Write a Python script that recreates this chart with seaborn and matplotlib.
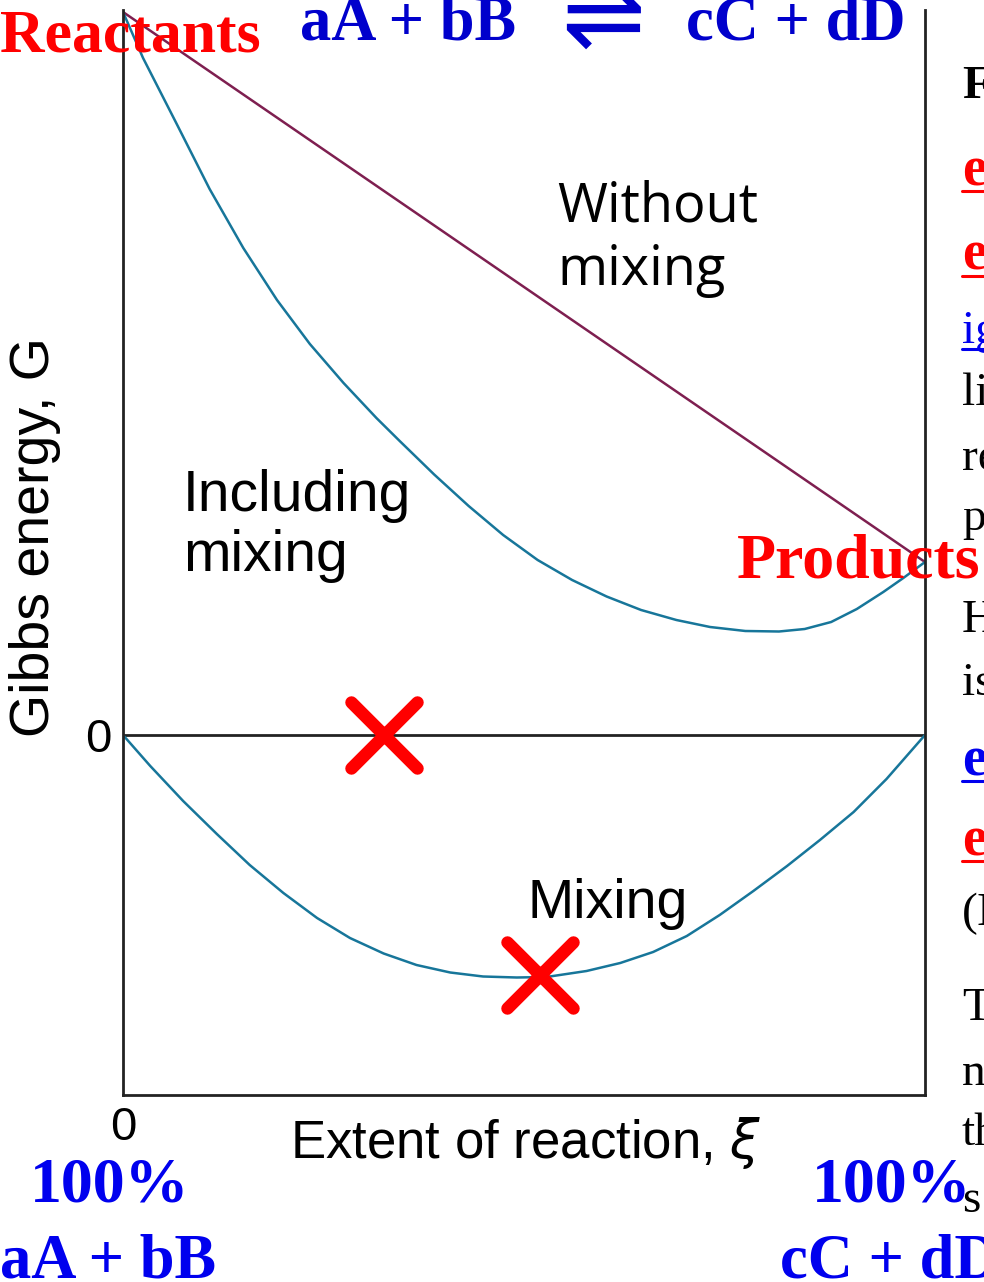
import matplotlib
matplotlib.use("Agg")
import matplotlib.pyplot as plt
from matplotlib.markers import MarkerStyle
from matplotlib.lines import Line2D
import seaborn as sns
import pandas as pd

# values (x = extent of reaction 0..1, G in arbitrary units)
xi_without = [0.0, 1.0]
g_without = [7.23, 1.73]

xi_incl = [0.0, 0.025, 0.067, 0.108, 0.150, 0.192, 0.233, 0.275, 0.316, 0.345, 0.388, 0.431,
           0.474, 0.517, 0.560, 0.603, 0.646, 0.690, 0.732, 0.776, 0.818, 0.850, 0.883, 0.915,
           0.948, 0.973, 1.0]
g_incl = [7.23, 6.77, 6.11, 5.46, 4.87, 4.35, 3.91, 3.52, 3.17, 2.94, 2.605, 2.29,
          2.00, 1.75, 1.55, 1.385, 1.25, 1.15, 1.08, 1.04, 1.035, 1.06, 1.13, 1.26,
          1.43, 1.57, 1.73]

xi_mix = [0.0, 0.034, 0.075, 0.117, 0.158, 0.200, 0.242, 0.283, 0.325, 0.366, 0.408, 0.449,
          0.491, 0.528, 0.578, 0.620, 0.661, 0.703, 0.744, 0.786, 0.828, 0.869, 0.911, 0.952, 1.0]
g_mix = [0.0, -0.31, -0.66, -0.99, -1.30, -1.58, -1.83, -2.03, -2.185, -2.30, -2.375, -2.415,
         -2.425, -2.42, -2.36, -2.28, -2.17, -2.01, -1.80, -1.56, -1.31, -1.05, -0.77, -0.44, 0.0]

cross_xi = [0.325, 0.52]
cross_g = [0.0, -2.40]

sns.set_theme(style="white")
plt.rcParams["font.family"] = ["Liberation Sans", "DejaVu Sans"]
plt.rcParams["text.color"] = "black"

W, H = 984, 1282
fig = plt.figure(figsize=(W / 100, H / 100), dpi=100)
ax = fig.add_axes([123 / W, 1 - 1095 / H, (925 - 123) / W, (1095 - 10) / H])

teal = "#17769a"
purple = "#7e1f50"

df_w = pd.DataFrame({"xi": xi_without, "G": g_without})
df_i = pd.DataFrame({"xi": xi_incl, "G": g_incl})
df_m = pd.DataFrame({"xi": xi_mix, "G": g_mix})

line_kw = dict(lw=1.8, ax=ax, estimator=None, solid_joinstyle="round", solid_capstyle="round")
sns.lineplot(data=df_w, x="xi", y="G", color=purple, **line_kw)
sns.lineplot(data=df_i, x="xi", y="G", color=teal, **line_kw)
sns.lineplot(data=df_m, x="xi", y="G", color=teal, **line_kw)
ax.axhline(0, color="#222222", lw=2.0, zorder=1)

xmark = MarkerStyle("x", capstyle="round")
ax.plot(cross_xi, cross_g, ls="none", marker=xmark, ms=48, mew=9, color="#ff0000", zorder=5)

ax.set_xlim(0, 1)
ax.set_ylim(-3.60, 7.25)
ax.set_xticks([0])
ax.set_xticklabels(["0"], fontsize=34)
ax.set_yticks([0])
ax.set_yticklabels(["0"], fontsize=34)
ax.tick_params(axis="both", length=0, colors="black")
ax.tick_params(axis="x", pad=8)
ax.tick_params(axis="y", pad=8)
ax.set_xlabel("")
ax.set_ylabel("")
for side in ["left", "right", "bottom"]:
    ax.spines[side].set_visible(True)
    ax.spines[side].set_color("#222222")
    ax.spines[side].set_linewidth(2.0)
ax.spines["top"].set_visible(False)

# curve labels
ax.text(0.541, 5.55, "Without\nmixing", fontsize=39, family=["Open Sans", "DejaVu Sans"],
        va="top", ha="left", linespacing=1.2, color="black")
ax.text(0.075, 2.66, "Including\nmixing", fontsize=41, va="top", ha="left",
        linespacing=1.15, color="black")
ax.text(0.504, -1.83, "Mixing", fontsize=40, va="baseline", ha="left", color="black")

# axis titles
fig.text(35 / W, 1 - 537 / H, "Gibbs energy, G", rotation=90, fontsize=40,
         ha="center", va="center", color="black")
fig.text(526 / W, 1 - 1143 / H, r"Extent of reaction, $\xi$", fontsize=38,
         ha="center", va="center", color="black")


def ftxt(x, y, s, **kw):
    fig.text(x / W, 1 - y / H, s, va="baseline", **kw)


serif = ["Liberation Serif", "DejaVu Serif"]
ftxt(0, 52, "Reactants", color="#ff0000", fontsize=44.5, fontweight="bold", family=serif)
ftxt(737, 578, "Products", color="#ff0000", fontsize=46, fontweight="bold", family=serif)

blue_top = "#0000cc"
ftxt(300, 40, "aA + bB", color=blue_top, fontsize=45, fontweight="bold", family=serif)
ftxt(603, 50, "\u21cc", color=blue_top, fontsize=72, fontweight="normal",
     family=["DejaVu Sans"], ha="center")
ftxt(905, 40, "cC + dD", color=blue_top, fontsize=45, fontweight="bold", family=serif, ha="right")

blue = "#0000ee"
ftxt(30, 1202, "100%", color=blue, fontsize=46, fontweight="bold", family=serif)
ftxt(0, 1278, "aA + bB", color=blue, fontsize=45, fontweight="bold", family=serif)
ftxt(812, 1202, "100%", color=blue, fontsize=46, fontweight="bold", family=serif)
ftxt(780, 1278, "cC + dD", color=blue, fontsize=45, fontweight="bold", family=serif)

# cropped slide text along the right edge
side_text = [
    ("F", 98, "black", "bold", False),
    ("e", 185, "#ff0000", "bold", True),
    ("e", 270, "#ff0000", "bold", True),
    ("ig", 343, "#0000ee", "normal", True),
    ("li", 405, "black", "normal", False),
    ("re", 470, "black", "normal", False),
    ("p", 530, "black", "normal", False),
    ("H", 632, "black", "normal", False),
    ("is", 695, "black", "normal", False),
    ("e", 775, "#0000ee", "bold", True),
    ("e", 855, "#ff0000", "bold", True),
    ("(I", 925, "black", "normal", False),
    ("T", 1020, "black", "normal", False),
    ("n", 1085, "black", "normal", False),
    ("th", 1145, "black", "normal", False),
    ("s", 1212, "black", "normal", False),
]
for s, y, c, wgt, under in side_text:
    fs = 40 if wgt == "bold" and c != "black" else 34
    ftxt(962, y, s, color=c, fontsize=fs, fontweight=wgt, family=serif)
    if under:
        fig.add_artist(Line2D([962 / W, 1.0], [1 - (y + 6) / H] * 2, color=c, lw=2.2))

fig.savefig("out.png", dpi=100)
